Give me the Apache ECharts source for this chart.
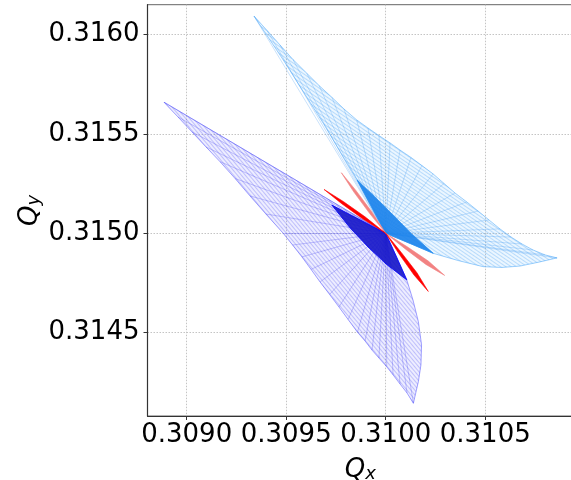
<!DOCTYPE html>
<html>
<head>
<meta charset="utf-8">
<script src="https://cdn.jsdelivr.net/npm/echarts@6/dist/echarts.min.js"></script>
<style>
html,body{margin:0;padding:0;background:#fff;}
#chart{width:571px;height:480px;}
</style>
</head>
<body>
<div id="chart"></div>
<script>
// ---------- data ----------
const xTicks = [0.3090, 0.3095, 0.3100, 0.3105];
const yTicks = [0.3145, 0.3150, 0.3155, 0.3160];
const center = [0.3100, 0.3150];

// lower-left (blue) footprint: outer amplitude curve, tip -> bottom
const blueOuter = [
  [0.308886,0.315660],[0.308956,0.315586],[0.309027,0.315510],[0.309097,0.315435],
  [0.309167,0.315361],[0.309243,0.315276],[0.309318,0.315188],[0.309398,0.315097],
  [0.309485,0.315000],[0.309532,0.314941],[0.309579,0.314881],[0.309625,0.314818],
  [0.309670,0.314755],[0.309718,0.314692],[0.309765,0.314629],[0.309811,0.314566],
  [0.309858,0.314502],[0.309896,0.314458],[0.309931,0.314412],[0.309966,0.314372],
  [0.310005,0.314328],[0.310037,0.314287],[0.310072,0.314241],[0.310107,0.314196],
  [0.310139,0.314144]
];
// its curved right edge, centre -> bottom
const blueEdge = [
  [0.3100,0.3150],[0.310052,0.314886],[0.310106,0.314765],[0.310137,0.314664],
  [0.310164,0.314555],[0.310180,0.314438],[0.310177,0.314337],[0.310164,0.314253],
  [0.310139,0.314144]
];
// dense dark core of the blue footprint
const blueCore = [
  [0.3100,0.3150],[0.309729,0.315142],[0.309821,0.315027],[0.309911,0.314931],
  [0.310002,0.314845],[0.310106,0.314765],[0.310052,0.314886]
];

// upper-right (light blue) footprint: outer curve, top tip -> right tip
const skyOuter = [
  [0.309338,0.316094],[0.309404,0.316021],[0.309469,0.315948],[0.309534,0.315875],
  [0.309603,0.315806],[0.309665,0.315744],[0.309730,0.315684],[0.309790,0.315626],
  [0.309854,0.315571],[0.309911,0.315530],[0.309966,0.315492],[0.310022,0.315455],
  [0.310072,0.315419],[0.310127,0.315382],[0.310182,0.315341],[0.310238,0.315299],
  [0.310293,0.315251],[0.310348,0.315203],[0.310407,0.315158],[0.310464,0.315112],
  [0.310519,0.315067],[0.310574,0.315022],[0.310630,0.314981],[0.310685,0.314946],
  [0.310740,0.314916],[0.310801,0.314891],[0.310861,0.314876]
];
// its left edge, centre -> top tip
const skyLeft = [
  [0.3100,0.3150],[0.309856,0.315268],[0.309686,0.315554],[0.309485,0.315873],[0.309338,0.316094]
];
// its lower edge, centre -> right tip
const skyLower = [
  [0.3100,0.3150],[0.310122,0.314949],[0.310239,0.314899],[0.310363,0.314863],
  [0.310489,0.314832],[0.310584,0.314828],[0.310675,0.314835],[0.310775,0.314856],
  [0.310861,0.314876]
];
// dense bright core of the light blue footprint
const skyCore = [
  [0.3100,0.3150],[0.309856,0.315268],[0.309942,0.315187],[0.310033,0.315096],
  [0.310132,0.314995],[0.310239,0.314899],[0.310122,0.314949]
];

// thin red footprints (each a pair of narrow wedges through the centre)
const redUpper = [
  [0.309690,0.315221],[0.309787,0.315160],[0.309896,0.315083],[0.3100,0.3150],
  [0.309887,0.315071],[0.309779,0.315149]
];
const redLower = [
  [0.3100,0.3150],[0.310080,0.314901],[0.310157,0.314801],[0.310214,0.314707],
  [0.310142,0.314790],[0.310069,0.314893]
];
const pinkUpper = [
  [0.309777,0.315305],[0.309849,0.315217],[0.309928,0.315111],[0.3100,0.3150],
  [0.309917,0.315103],[0.309839,0.315209]
];
const pinkLower = [
  [0.3100,0.3150],[0.310108,0.314932],[0.310214,0.314860],[0.310296,0.314788],
  [0.310202,0.314843],[0.310100,0.314920]
];

// ---------- helpers ----------
function hatch(color, spacing, angle) {
  const c = document.createElement('canvas');
  c.width = 16; c.height = spacing;
  const g = c.getContext('2d');
  g.fillStyle = color;
  g.fillRect(0, 0, 16, 0.7);
  return {image: c, repeat: 'repeat', rotation: angle};
}
function polygonSeries(pts, style) {
  return {
    type: 'custom',
    coordinateSystem: 'cartesian2d',
    data: pts,
    encode: {x: 0, y: 1},
    silent: true,
    renderItem: function (params, api) {
      if (params.dataIndex !== 0) return null;
      const points = pts.map(p => api.coord(p));
      return {type: 'polygon', shape: {points: points}, style: style};
    }
  };
}
function spokesSeries(ends, color, width) {
  return {
    type: 'lines',
    coordinateSystem: 'cartesian2d',
    silent: true,
    polyline: false,
    lineStyle: {color: color, width: width, opacity: 1},
    data: ends.map(p => ({coords: [center, p]}))
  };
}

const bluePoly = [center].concat(blueOuter, blueEdge.slice(1, -1).reverse());
const skyPoly = skyLeft.concat(skyOuter.slice(1), skyLower.slice(1, -1).reverse());

const font = 'DejaVu Sans';
const nameRich = {
  q: {fontFamily: font, fontStyle: 'italic', fontSize: 26, lineHeight: 30, verticalAlign: 'bottom', color: '#000'},
  s: {fontFamily: font, fontStyle: 'italic', fontSize: 18, lineHeight: 16, verticalAlign: 'bottom', color: '#000'}
};
const chart = echarts.init(document.getElementById('chart'), null, {renderer: 'canvas'});
chart.setOption({
  animation: false,
  backgroundColor: '#ffffff',
  grid: {left: 147.5, top: 4.7, right: -2, bottom: 64, show: true, borderColor: '#666', borderWidth: 1,
         containLabel: false, outerBoundsMode: 'none'},
  xAxis: {
    type: 'value', min: 0.308803, max: 0.310941, splitNumber: 4,
    axisLine: {show: true, onZero: false, lineStyle: {color: '#333', width: 1.2}},
    axisTick: {show: true, length: 4, lineStyle: {color: '#333'}, customValues: xTicks},
    axisLabel: {customValues: xTicks, formatter: v => v.toFixed(4), fontFamily: font, fontSize: 26, color: '#000', margin: 6},
    splitLine: {show: true, lineStyle: {color: '#c4c4c4', type: [1.5, 1.5], width: 1}},
    name: '{q|Q}{s|x}', nameLocation: 'middle', nameGap: 37, nameMoveOverlap: false,
    nameTextStyle: {fontFamily: font, color: '#000', fontSize: 26, rich: nameRich}
  },
  yAxis: {
    type: 'value', min: 0.314080, max: 0.316151, splitNumber: 4,
    axisLine: {show: true, onZero: false, lineStyle: {color: '#333', width: 1.2}},
    axisTick: {show: true, length: 4, lineStyle: {color: '#333'}, customValues: yTicks},
    axisLabel: {customValues: yTicks, formatter: v => v.toFixed(4), fontFamily: font, fontSize: 26, color: '#000', margin: 8},
    splitLine: {show: true, lineStyle: {color: '#c4c4c4', type: [1.5, 1.5], width: 1}},
    name: '{q|Q}{s|y}', nameLocation: 'middle', nameGap: 104, nameMoveOverlap: false,
    nameTextStyle: {fontFamily: font, color: '#000', fontSize: 26, rich: nameRich}
  },
  series: [
    polygonSeries(bluePoly, {fill: 'rgba(110,110,255,0.12)', stroke: 'rgba(90,90,255,0.7)', lineWidth: 0.8}),
    polygonSeries(bluePoly, {fill: hatch('rgba(90,90,245,0.45)', 3, 0.87), stroke: null}),
    spokesSeries(blueOuter, 'rgba(80,80,240,0.45)', 0.7),
    polygonSeries(blueCore, {fill: 'rgba(20,20,200,0.9)', stroke: '#0000ff', lineWidth: 0.8}),
    polygonSeries(skyPoly, {fill: 'rgba(90,180,255,0.12)', stroke: 'rgba(80,170,250,0.7)', lineWidth: 0.8}),
    polygonSeries(skyPoly, {fill: hatch('rgba(70,160,245,0.45)', 3, 0.6), stroke: null}),
    spokesSeries(skyOuter, 'rgba(60,150,240,0.4)', 0.7),
    polygonSeries(skyCore, {fill: 'rgba(25,130,235,0.9)', stroke: '#2a8ff0', lineWidth: 0.8}),
    polygonSeries(pinkUpper, {fill: '#f28282', stroke: '#f28282', lineWidth: 0.6}),
    polygonSeries(pinkLower, {fill: '#f28282', stroke: '#f28282', lineWidth: 0.6}),
    polygonSeries(redUpper, {fill: '#ff0000', stroke: '#ff0000', lineWidth: 0.6}),
    polygonSeries(redLower, {fill: '#ff0000', stroke: '#ff0000', lineWidth: 0.6})
  ]
});
</script>
</body>
</html>
